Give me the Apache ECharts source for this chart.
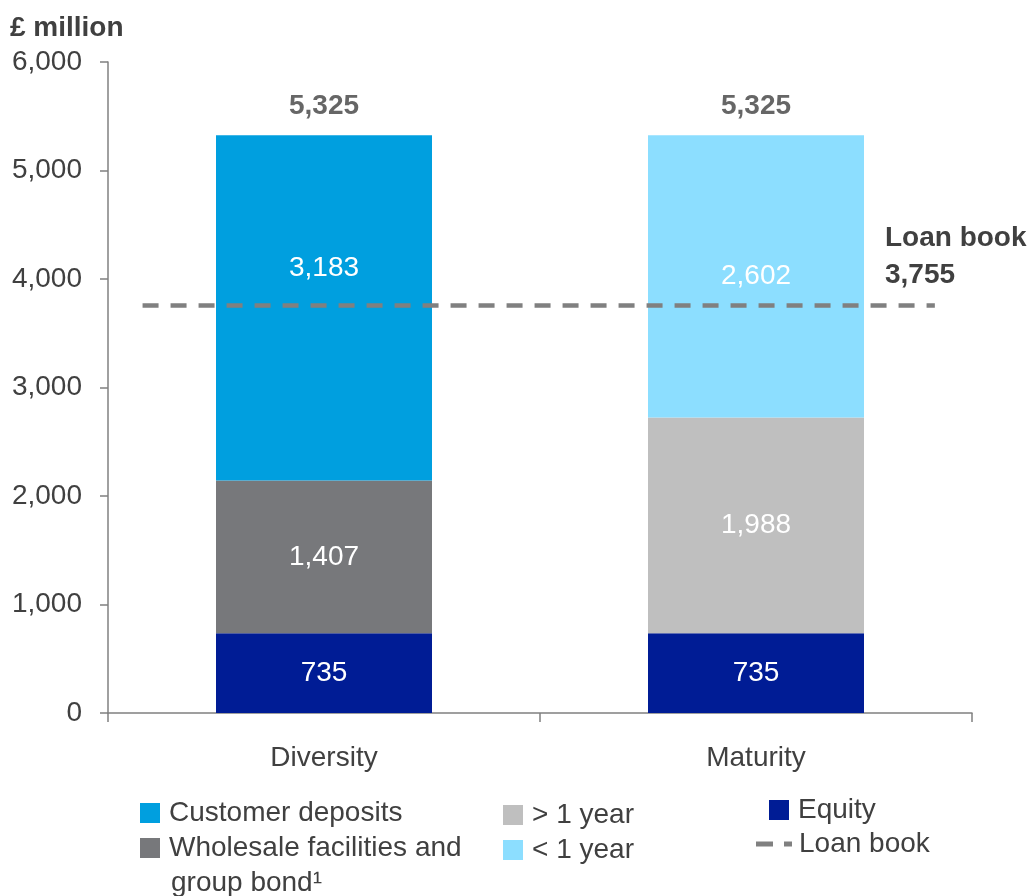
<!DOCTYPE html>
<html>
<head>
<meta charset="utf-8">
<script src="https://cdn.jsdelivr.net/npm/echarts@6/dist/echarts.min.js"></script>
<style>
  html, body { margin: 0; padding: 0; background: #ffffff; }
  #chart { width: 1035px; height: 896px; }
</style>
</head>
<body>
<div id="chart"></div>
<script>
// Funding structure, £ million
const categories = ['Diversity', 'Maturity'];
const equity = [735, 735];
const wholesale = [1407, '-'];
const overOneYear = ['-', 1988];
const customerDeposits = [3183, '-'];
const underOneYear = ['-', 2602];
const loanBook = 3755;

const seriesNames = {
  customer: 'Customer deposits',
  wholesale: 'Wholesale facilities and group bond\u00b9',
  over: '> 1 year',
  under: '< 1 year',
  equity: 'Equity',
  loan: 'Loan book'
};

const FONT = '"Liberation Sans", Arial, Helvetica, sans-serif';
const FS = 28;
const TEXT = '#404040';
const AXIS = '#808080';

const fmt = v => Number(v).toLocaleString('en-GB');

// Column totals from every segment of each stack
const totals = categories.map((_, i) =>
  [equity, wholesale, overOneYear, customerDeposits, underOneYear]
    .map(arr => arr[i])
    .filter(v => typeof v === 'number')
    .reduce((a, b) => a + b, 0)
);

function stackBar(name, data, color) {
  return {
    name: name,
    type: 'bar',
    stack: 'funding',
    barWidth: '50%',
    data: data,
    itemStyle: { color: color },
    emphasis: { disabled: true },
    label: {
      show: true,
      position: 'inside',
      color: '#ffffff',
      fontSize: FS,
      fontFamily: FONT,
      formatter: p => fmt(p.value)
    }
  };
}

const chart = echarts.init(document.getElementById('chart'), null, { renderer: 'canvas' });

const legendText = {
  fontSize: FS,
  color: TEXT,
  fontFamily: FONT,
  lineHeight: 32,
  padding: [0, 0, 0, 4]
};

const legendBase = {
  orient: 'vertical',
  padding: 0,
  itemWidth: 20,
  itemHeight: 20,
  itemGap: 3,
  icon: 'rect',
  selectedMode: false,
  textStyle: legendText
};

chart.setOption({
  animation: false,
  backgroundColor: '#ffffff',
  textStyle: { fontFamily: FONT },
  grid: { left: 108, right: 63, top: 62, bottom: 183, containLabel: false },
  xAxis: [
    {
      type: 'category',
      data: categories,
      axisLine: { show: true, lineStyle: { color: AXIS, width: 1.5 } },
      axisTick: { show: true, length: 9, lineStyle: { color: AXIS, width: 1.5 } },
      axisLabel: { fontSize: FS, color: TEXT, fontFamily: FONT, margin: 31 }
    },
    {
      type: 'value',
      min: 0,
      max: 1,
      show: false
    }
  ],
  yAxis: {
    type: 'value',
    min: 0,
    max: 6000,
    interval: 1000,
    splitLine: { show: false },
    axisLine: { show: true, lineStyle: { color: AXIS, width: 1.5 } },
    axisTick: { show: true, length: 8, lineStyle: { color: AXIS, width: 1.5 } },
    axisLabel: {
      fontSize: FS,
      color: TEXT,
      fontFamily: FONT,
      margin: 26,
      formatter: v => fmt(v)
    }
  },
  legend: [
    Object.assign({}, legendBase, {
      left: 140,
      top: 797,
      data: [seriesNames.customer, seriesNames.wholesale],
      formatter: n => (n === seriesNames.wholesale ? 'Wholesale facilities and' : n)
    }),
    Object.assign({}, legendBase, {
      left: 503,
      top: 799,
      data: [seriesNames.over, seriesNames.under]
    }),
    Object.assign({}, legendBase, {
      left: 769,
      top: 794,
      data: [seriesNames.equity]
    }),
    Object.assign({}, legendBase, {
      left: 756,
      top: 828,
      itemWidth: 40,
      itemHeight: 5,
      textStyle: Object.assign({}, legendText, { padding: 0 }),
      data: [{
        name: seriesNames.loan,
        icon: 'path://M4,0H21V5H4Z M32,0H40V5H32Z',
        itemStyle: { color: AXIS, borderWidth: 0 }
      }]
    })
  ],
  series: [
    stackBar(seriesNames.equity, equity, '#001C95'),
    stackBar(seriesNames.wholesale, wholesale, '#77787B'),
    stackBar(seriesNames.over, overOneYear, '#BFBFBF'),
    // label lifted above the loan-book line
    stackBar(seriesNames.customer, customerDeposits.map(v =>
      v === '-' ? v : { value: v, label: { offset: [0, -40] } }), '#009FDF'),
    stackBar(seriesNames.under, underOneYear, '#8CDEFF'),
    {
      name: 'Total',
      type: 'scatter',
      data: totals,
      symbolSize: 0,
      silent: true,
      label: {
        show: true,
        position: 'top',
        distance: 15,
        color: TEXT,
        fontSize: FS,
        fontWeight: 'bold',
        fontFamily: FONT,
        formatter: p => fmt(p.value)
      }
    },
    {
      name: seriesNames.loan,
      type: 'line',
      xAxisIndex: 1,
      data: [[0.04, loanBook], [0.957, loanBook]],
      symbol: 'none',
      silent: true,
      z: 5,
      itemStyle: { color: AXIS },
      lineStyle: { color: AXIS, width: 4.5, type: [16, 12] }
    }
  ],
  graphic: [
    {
      type: 'text',
      left: 10,
      top: 14,
      style: {
        text: '\u00a3 million',
        font: 'bold ' + FS + 'px ' + FONT,
        fill: TEXT
      }
    },
    {
      type: 'text',
      left: 885,
      top: 220,
      style: {
        text: 'Loan book\n' + fmt(loanBook),
        font: 'bold ' + FS + 'px ' + FONT,
        lineHeight: 37,
        fill: TEXT
      }
    },
    {
      type: 'text',
      left: 171,
      top: 867,
      style: {
        text: 'group bond\u00b9',
        font: FS + 'px ' + FONT,
        lineHeight: 32,
        fill: TEXT
      }
    }
  ]
});
</script>
</body>
</html>
